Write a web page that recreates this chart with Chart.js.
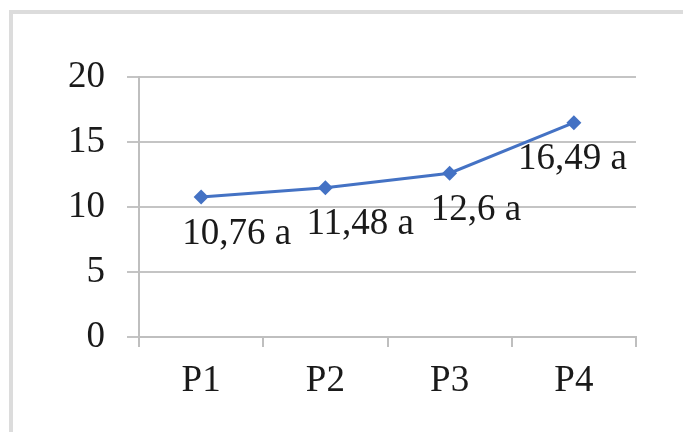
<!DOCTYPE html>
<html>
<head>
<meta charset="utf-8">
<script src="https://cdn.jsdelivr.net/npm/chart.js@4"></script>
<style>
  html, body { margin: 0; padding: 0; background: #ffffff; }
  #wrap { position: relative; width: 683px; height: 432px; overflow: hidden; }
  #frame { position: absolute; left: 9px; top: 10px; width: 700px; height: 460px;
           border-left: 4px solid #dcdcdc; border-top: 4px solid #dcdcdc; box-sizing: border-box; }
  canvas { position: absolute; left: 0; top: 0; }
</style>
</head>
<body>
<div id="wrap">
  <div id="frame"></div>
  <canvas id="c" width="683" height="432"></canvas>
</div>
<script>
// Categories and values
const categories = ["P1", "P2", "P3", "P4"];
const values = [10.76, 11.48, 12.6, 16.49];
const groupLetters = ["a", "a", "a", "a"];
const yTicks = [0, 5, 10, 15, 20];

const FONT = "'Liberation Serif', 'Times New Roman', serif";

// Value labels drawn under each point, kept inside the plot width
const pointLabels = {
  id: "pointLabels",
  afterDatasetsDraw(chart) {
    const ctx = chart.ctx;
    const meta = chart.getDatasetMeta(0);
    const right = chart.chartArea.right - 9;
    ctx.save();
    ctx.font = "37px " + FONT;
    ctx.fillStyle = "#1a1a1a";
    ctx.textAlign = "left";
    ctx.textBaseline = "middle";
    meta.data.forEach((pt, i) => {
      const text = String(values[i]).replace(".", ",") + " " + groupLetters[i];
      const w = ctx.measureText(text).width;
      let x = pt.x - 19;
      if (x + w > right) x = right - w;
      ctx.fillText(text, x, pt.y + 37);
    });
    ctx.restore();
  }
};

new Chart(document.getElementById("c"), {
  type: "line",
  data: {
    labels: categories,
    datasets: [{
      data: values,
      borderColor: "#4472C4",
      backgroundColor: "#4472C4",
      borderWidth: 3,
      pointStyle: "rectRot",
      pointRadius: 7.5,
      pointBorderWidth: 0,
      tension: 0,
      clip: false
    }]
  },
  options: {
    responsive: false,
    animation: false,
    events: [],
    layout: { padding: { top: 77, right: 47, left: 0, bottom: 0 } },
    plugins: { legend: { display: false }, tooltip: { enabled: false } },
    scales: {
      x: {
        offset: true,
        afterFit(s) { s.height = 95; },
        grid: {
          offset: true,
          drawOnChartArea: false,
          drawTicks: true,
          tickLength: 10,
          color: "#bfbfbf",
          lineWidth: 2
        },
        border: { color: "#bfbfbf", width: 2 },
        ticks: {
          color: "#1a1a1a",
          padding: 12,
          font: { family: FONT, size: 37 }
        }
      },
      y: {
        min: 0,
        max: 20,
        afterFit(s) { s.width = 139; },
        afterBuildTicks(s) { s.ticks = yTicks.map(v => ({ value: v })); },
        grid: {
          color: "#c4c4c4",
          lineWidth: 2,
          drawTicks: true,
          tickLength: 12
        },
        border: { color: "#bfbfbf", width: 2 },
        ticks: {
          color: "#1a1a1a",
          padding: 22,
          font: { family: FONT, size: 37 }
        }
      }
    }
  },
  plugins: [pointLabels]
});
</script>
</body>
</html>
